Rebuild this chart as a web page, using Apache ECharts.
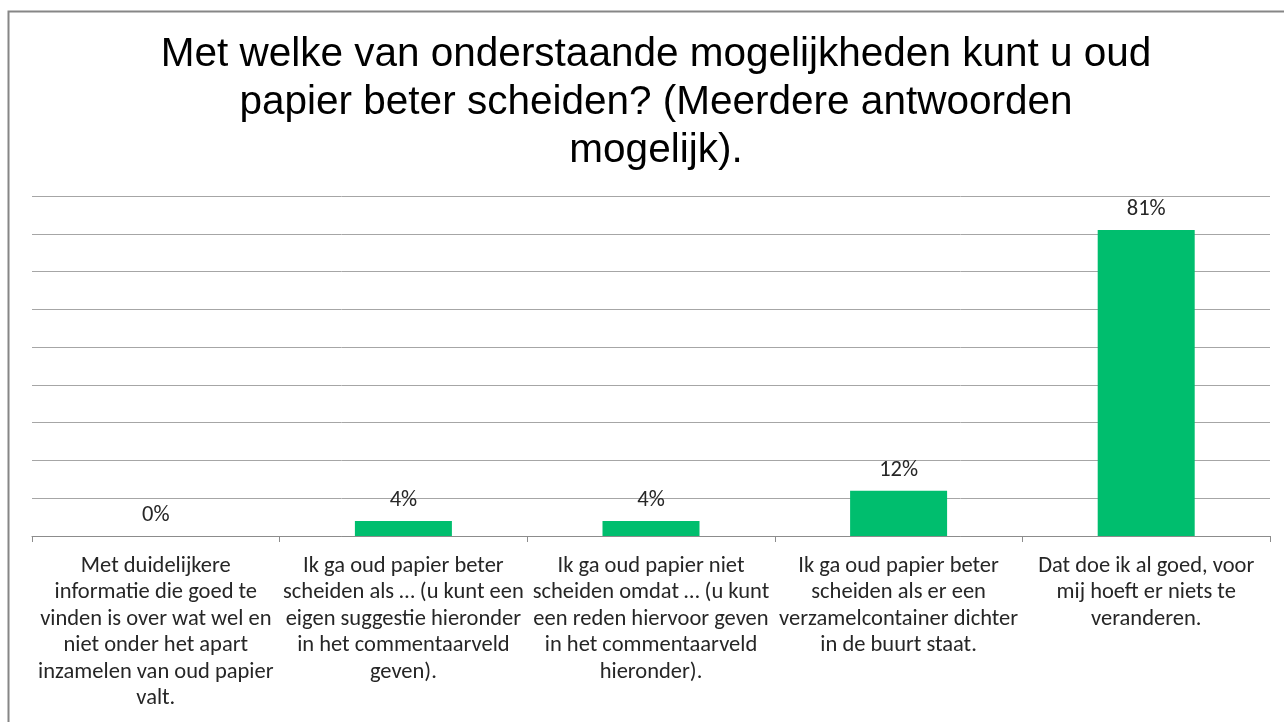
<!DOCTYPE html>
<html>
<head>
<meta charset="utf-8">
<script src="https://cdn.jsdelivr.net/npm/echarts@6/dist/echarts.min.js"></script>
<style>
html,body{margin:0;padding:0;background:#fff;}
#chart{width:1284px;height:722px;}
</style>
</head>
<body>
<div id="chart"></div>
<script>
const titleText = "Met welke van onderstaande mogelijkheden kunt u oud\npapier beter scheiden? (Meerdere antwoorden\nmogelijk).";
const categories = [
  "Met duidelijkere\ninformatie die goed te\nvinden is over wat wel en\nniet onder het apart\ninzamelen van oud papier\nvalt.",
  "Ik ga oud papier beter\nscheiden als \u2026 (u kunt een\neigen suggestie hieronder\nin het commentaarveld\ngeven).",
  "Ik ga oud papier niet\nscheiden omdat \u2026 (u kunt\neen reden hiervoor geven\nin het commentaarveld\nhieronder).",
  "Ik ga oud papier beter\nscheiden als er een\nverzamelcontainer dichter\nin de buurt staat.",
  "Dat doe ik al goed, voor\nmij hoeft er niets te\nveranderen."
];
const values = [0, 4, 4, 12, 81];
const yMin = 0, yMax = 90, yStep = 10;

const chart = echarts.init(document.getElementById('chart'), null, {renderer: 'canvas'});
const labelFont = 'Carlito, Lato, "Open Sans", sans-serif';
chart.setOption({
  animation: false,
  backgroundColor: '#ffffff',
  graphic: [{
    type: 'rect',
    shape: {x: 8.5, y: 11.5, width: 1290, height: 730},
    style: {fill: 'none', stroke: '#868686', lineWidth: 2},
    silent: true, z: 100
  }],
  title: {
    text: titleText,
    left: 651,
    top: 26,
    textAlign: 'center',
    textStyle: {
      fontFamily: '"Liberation Sans", Arial, sans-serif',
      fontSize: 40.5,
      fontWeight: 'normal',
      color: '#000000',
      lineHeight: 48
    }
  },
  grid: {left: 32, right: 14, top: 196, bottom: 186, containLabel: false},
  xAxis: {
    type: 'category',
    data: categories,
    boundaryGap: true,
    axisLine: {show: true, lineStyle: {color: '#8c8c8c', width: 1}},
    axisTick: {show: true, length: 6, alignWithLabel: false, lineStyle: {color: '#8c8c8c'}},
    axisLabel: {
      interval: 0,
      margin: 17,
      fontFamily: labelFont,
      fontSize: 22.5,
      lineHeight: 26.5,
      color: '#262626',
      align: 'center'
    }
  },
  yAxis: {
    type: 'value',
    min: yMin, max: yMax, interval: yStep,
    axisLine: {show: false},
    axisTick: {show: false},
    axisLabel: {show: false},
    splitLine: {show: true, lineStyle: {color: '#a6a6a6', width: 1}}
  },
  series: [{
    type: 'bar',
    data: values,
    barWidth: 97,
    itemStyle: {color: '#00BE6E'},
    label: {
      show: true,
      position: 'top',
      distance: 9,
      formatter: '{c}%',
      fontFamily: labelFont,
      fontSize: 22.5,
      color: '#262626'
    }
  }]
});
</script>
</body>
</html>
